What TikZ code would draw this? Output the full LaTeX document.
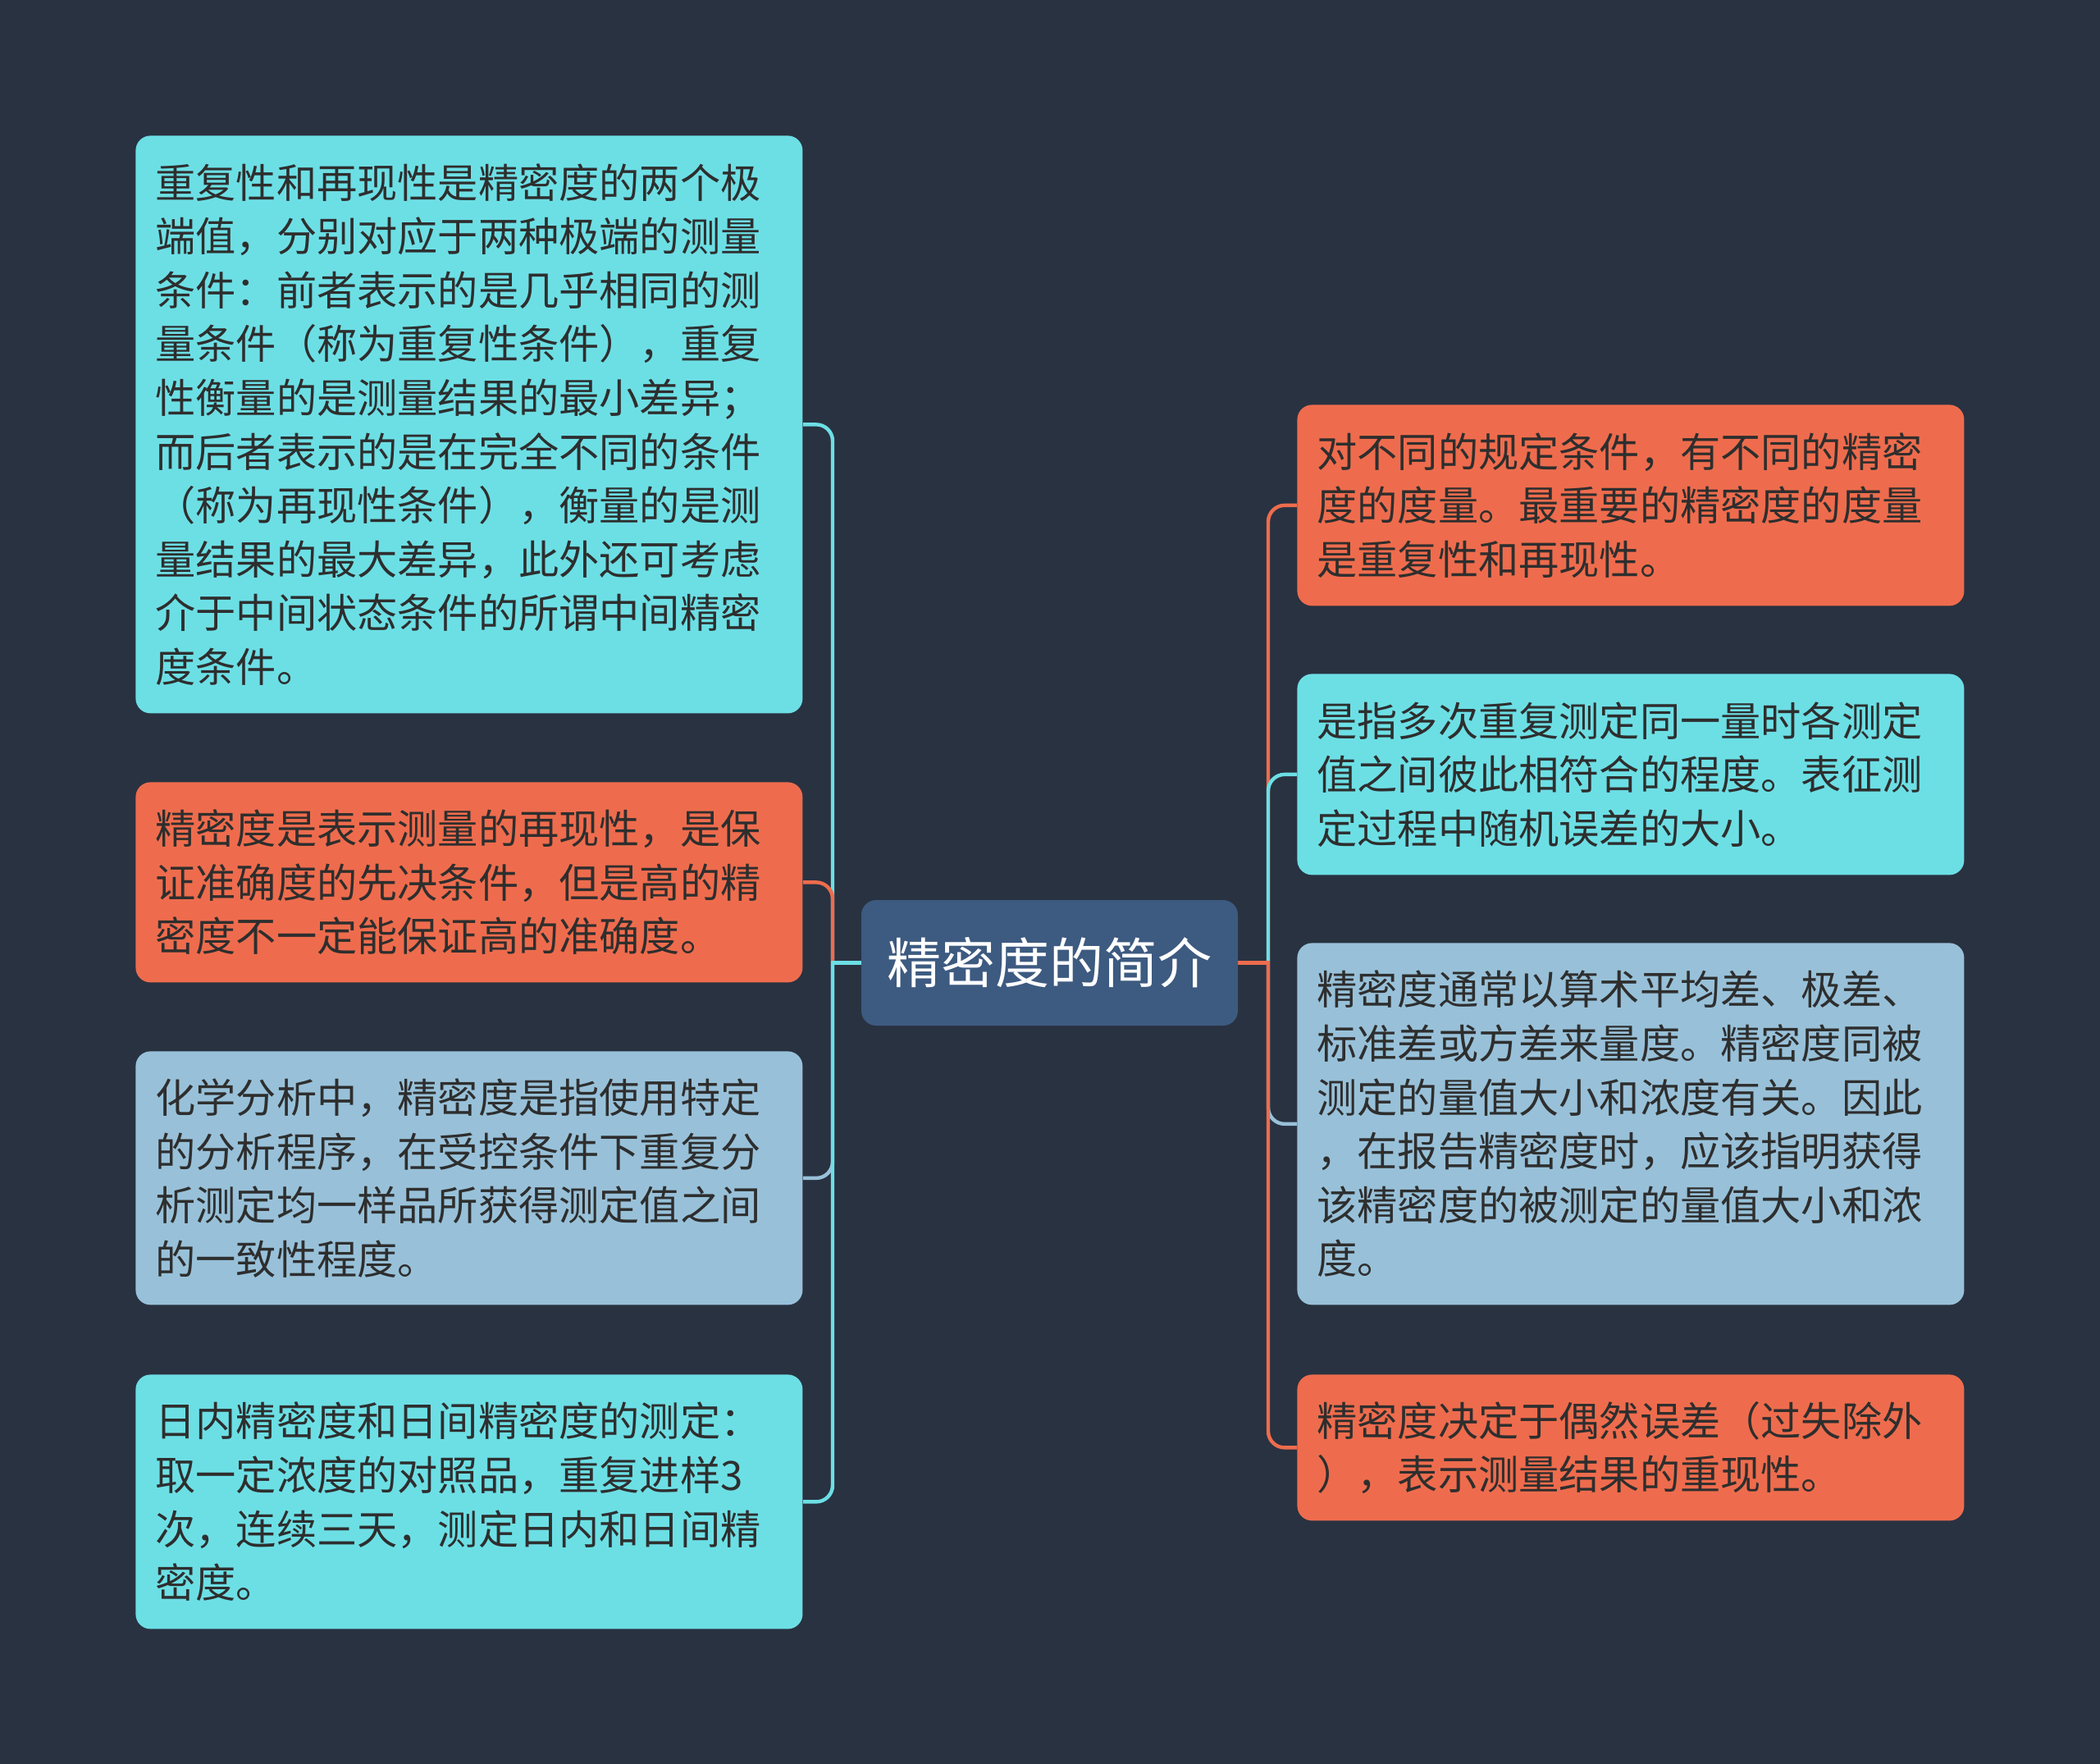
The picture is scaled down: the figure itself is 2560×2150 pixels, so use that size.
\documentclass[tikz,border=0pt]{standalone}
\usepackage{fontspec}
\setmainfont{Noto Sans CJK SC}
\definecolor{bgc}{HTML}{293241}
\definecolor{cyanc}{HTML}{6CDFE5}
\definecolor{orangec}{HTML}{EE6C4D}
\definecolor{greyc}{HTML}{98C1D9}
\definecolor{rootc}{HTML}{3D5A80}
\definecolor{txtc}{HTML}{2E2E2E}
\pgfdeclarelayer{bg}
\pgfsetlayers{bg,main}
\tikzset{
  leaf/.style={rectangle, rounded corners=9pt, anchor=north west,
    minimum width=406.5pt, text width=382.5pt, inner xsep=12pt, inner ysep=0pt,
    align=left, text=txtc, font=\fontsize{24.6pt}{32.8pt}\selectfont},
  rootbox/.style={rectangle, rounded corners=9pt, fill=rootc, text=white,
    minimum width=229.5pt, minimum height=76.5pt, inner sep=0pt,
    font=\fontsize{33pt}{40pt}\selectfont},
  conn/.style={line width=2.2pt},
}
\begin{document}
\begin{tikzpicture}[x=0.5pt,y=-0.5pt]
\useasboundingbox (0,0) rectangle (2560,2150);

\node[rootbox] (root) at (1279.5,1173.5) {精密度的简介};

\node[leaf, fill=cyanc, minimum height=352pt] (l1) at (165,165) {重复性和再现性是精密度的两个极\\端值，分别对应于两种极端的测量\\条件：前者表示的是几乎相同的测\\量条件（称为重复性条件），重复\\性衡量的是测量结果的最小差异；\\而后者表示的是在完全不同的条件\\（称为再现性条件），衡量的是测\\量结果的最大差异，此外还可考虑\\介于中间状态条件的所谓中间精密\\度条件。};
\node[leaf, fill=orangec, minimum height=122pt] (l2) at (165,953) {精密度是表示测量的再现性，是保\\证准确度的先决条件，但是高的精\\密度不一定能保证高的准确度。};
\node[leaf, fill=greyc, minimum height=154.5pt] (l3) at (165,1281) {化学分析中，精密度是指使用特定\\的分析程序，在受控条件下重复分\\析测定均一样品所获得测定值之间\\的一致性程度。};
\node[leaf, fill=cyanc, minimum height=155pt] (l4) at (165,1675) {日内精密度和日间精密度的测定：\\取一定浓度的对照品，重复进样3\\次，连续三天，测定日内和日间精\\密度。};

\node[leaf, fill=orangec, minimum height=122.5pt] (r1) at (1581,493) {对不同的规定条件，有不同的精密\\度的度量。最重要的精密度的度量\\是重复性和再现性。};
\node[leaf, fill=cyanc, minimum height=122.5pt] (r2) at (1581,821) {是指多次重复测定同一量时各测定\\值之间彼此相符合的程度。表征测\\定过程中随机误差的大小。};
\node[leaf, fill=greyc, minimum height=220.5pt] (r3) at (1581,1149) {精密度通常以算术平均差、极差、\\标准差或方差来量度。精密度同被\\测定的量值大小和浓度有关。因此\\，在报告精密度时，应该指明获得\\该精密度的被测定的量值大小和浓\\度。};
\node[leaf, fill=orangec, minimum height=89pt] (r4) at (1581,1675) {精密度决定于偶然误差（过失除外\\），表示测量结果的重现性。};

\coordinate (jl) at (1015,1173.5);
\coordinate (jr) at (1546,1173.5);

\begin{pgfonlayer}{bg}
\fill[bgc] (0,0) rectangle (2560,2150);
\foreach \n/\c in {l1/cyanc,l2/orangec,l3/greyc,l4/cyanc} {
  \draw[conn,\c,line cap=rect] (root.west) -- (jl);
  \draw[conn,\c,rounded corners=10pt] (jl) |- (\n.east);
}
\foreach \n/\c in {r1/orangec,r2/cyanc,r3/greyc,r4/orangec} {
  \draw[conn,\c,line cap=rect] (root.east) -- (jr);
  \draw[conn,\c,rounded corners=10pt] (jr) |- (\n.west);
}
\end{pgfonlayer}
\end{tikzpicture}
\end{document}
